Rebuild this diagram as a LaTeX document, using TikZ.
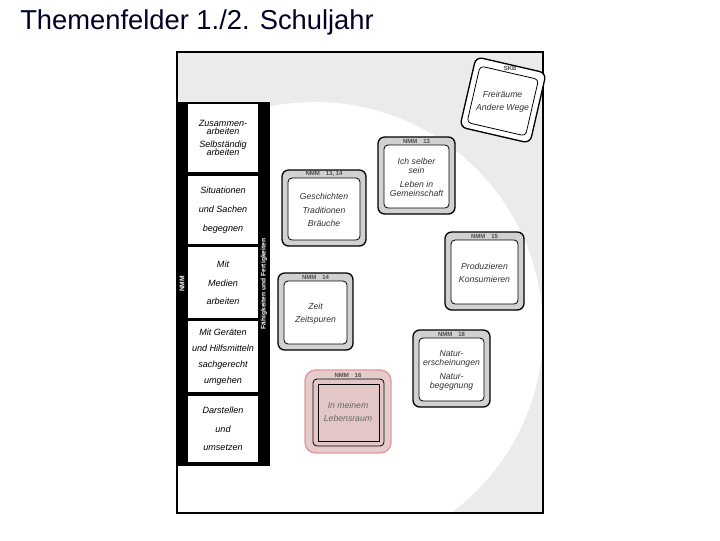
\documentclass[tikz,border=0pt]{standalone}
\usepackage{fontspec}
\setmainfont{Liberation Sans}
\begin{document}
\begin{tikzpicture}[x=0.75pt,y=-0.75pt,
  cardout/.style={draw=black,line width=1pt,fill=black!18,rounded corners=5pt},
  cardin/.style={draw=black,line width=0.6pt,fill=white,rounded corners=3pt},
  ctext/.style={font=\fontsize{6.5}{10}\itshape,align=center,text=black!80},
  hdr/.style={font=\fontsize{4.5}{5}\selectfont\bfseries,text=black!70},
  stxt/.style={font=\fontsize{6.8}{10}\itshape,align=center}]
\useasboundingbox (0,0) rectangle (720,540);
\node[anchor=west,font=\fontsize{20.5}{24}\selectfont,text=black!85!blue,inner sep=0pt] (title) at (20,22) {Themenfelder 1./2. Schuljahr};
% frame and background
\begin{scope}
\clip (177,52) rectangle (543,513);
\fill[black!8] (177,52) rectangle (543,513);
\fill[white] (315,330) circle (228);
\end{scope}
\draw[line width=0.8pt] (177,52) rectangle (543,513);
% left column
\fill[black] (177,102) rectangle (270,466);
\foreach \a/\b in {104/172,176/244,247/318,321/392,396/462}{\fill[white] (188,\a) rectangle (258,\b);}
\node[stxt] (s1) at (223,138) {Zusammen-\\[-4pt]arbeiten\\Selbständig\\[-4pt]arbeiten};
\node[stxt,font=\fontsize{6.8}{14}\itshape] (s2) at (223,210) {Situationen\\und Sachen\\begegnen};
\node[stxt,font=\fontsize{6.8}{14}\itshape] (s3) at (223,283) {Mit\\Medien\\arbeiten};
\node[stxt,font=\fontsize{6.8}{12}\itshape] (s4) at (223,357) {Mit Geräten\\und Hilfsmitteln\\sachgerecht\\umgehen};
\node[stxt,font=\fontsize{6.8}{14}\itshape] (s5) at (223,429) {Darstellen\\und\\umsetzen};
\node[rotate=90,text=white,font=\fontsize{5}{6}\selectfont\bfseries] (nmm) at (182,284) {NMM};
\node[rotate=90,text=white,font=\fontsize{5}{6}\selectfont\bfseries] (ff) at (264,284) {Fähigkeiten und Fertigkeiten};
% cards
\newcommand{\card}[7]{%
 \draw[cardout,#7] (#1,#2) rectangle (#3,#4);
 \draw[cardin] ({#1+6},{#2+8}) rectangle ({#3-6},{#4-6});
 \node[hdr] at ({(#1+#3)/2},{#2+4}) {#5};
 \node[ctext] at ({(#1+#3)/2},{(#2+#4)/2+2}) {#6};}
\card{282}{170}{366}{246}{NMM\quad 13, 14}{Geschichten\\Traditionen\\Bräuche}{}
\card{378}{137}{455}{214}{NMM\quad 13}{Ich selber\\[-3pt]sein\\Leben in\\[-3pt]Gemeinschaft}{}
\card{445}{232}{524}{310}{NMM\quad 15}{Produzieren\\Konsumieren}{}
\card{278}{273}{353}{350}{NMM\quad 14}{Zeit\\Zeitspuren}{}
\card{413}{330}{490}{407}{NMM\quad 18}{Natur-\\[-3pt]erscheinungen\\Natur-\\[-3pt]begegnung}{}
\begin{scope}
\draw[draw=black!30!red!40,fill=red!50!black!20,rounded corners=8pt,line width=1pt] (305,370) rectangle (391,453);
\draw[rounded corners=3pt,line width=0.6pt,fill=red!50!black!22] (313,379) rectangle (384,446);
\draw[line width=0.5pt] (318,384) rectangle (379,441);
\node[hdr] (h16) at (348,375) {NMM\quad 16};
\node[ctext,text=black!60] (leb) at (348,412) {In meinem\\Lebensraum};
\end{scope}
\begin{scope}[shift={(503,100)},rotate=-13]
\draw[line width=1pt,fill=white,rounded corners=5pt] (-36,-36) rectangle (36,36);
\draw[line width=0.6pt,rounded corners=3pt] (-30,-28) rectangle (30,30);
\node[hdr] (skb) at (0,-32) {SKB};
\node[ctext] (frei) at (0,2) {Freiräume\\Andere Wege};
\end{scope}
\end{tikzpicture}
\end{document}
